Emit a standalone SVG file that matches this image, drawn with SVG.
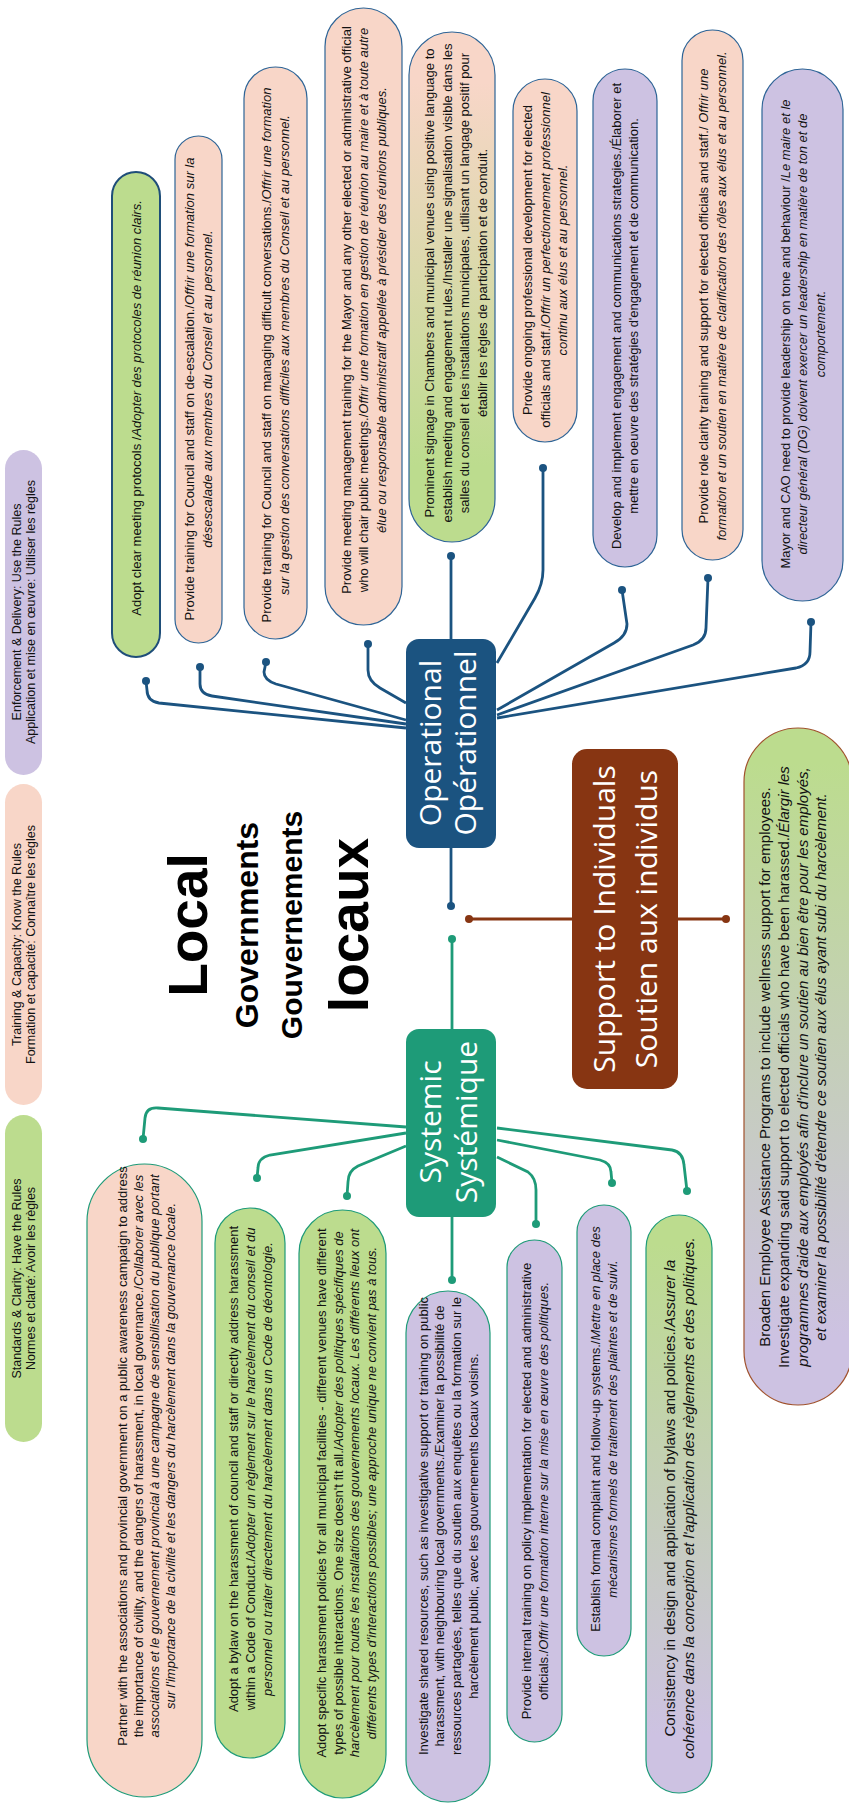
<svg xmlns="http://www.w3.org/2000/svg" width="849" height="1808" viewBox="0 0 849 1808">
<defs>
<linearGradient id="gPG" x1="0" y1="0" x2="0" y2="1"><stop offset="0.1" stop-color="#f8d6c8"/><stop offset="0.85" stop-color="#bcdc8e"/></linearGradient>
<linearGradient id="gGP" x1="0" y1="0" x2="0" y2="1"><stop offset="0.05" stop-color="#bcdc8e"/><stop offset="0.9" stop-color="#cdc2e2"/></linearGradient>
</defs>
<style>
.t{font-family:"Liberation Sans",Arial,sans-serif;font-size:13px;fill:#111;text-anchor:middle}
.b{font-size:15px}
.lg{font-size:12.5px}
.i{font-style:italic}
.hd{font-family:"Open Sans","Noto Sans",sans-serif;font-size:30px;fill:#fff;text-anchor:middle}
.ttl{font-family:"Liberation Sans",Arial,sans-serif;font-weight:bold;fill:#000;text-anchor:middle}
.pk{fill:#f8d6c8}
.gr{fill:#bcdc8e}
.pu{fill:#cdc2e2}
.ob{stroke:#2e6496;stroke-width:1.2}
.sb{stroke:#1e9b78;stroke-width:1.2}
.op{stroke:#1b5380;stroke-width:2.8;fill:none}
.sy{stroke:#1e9b78;stroke-width:2.8;fill:none}
.su{stroke:#873512;stroke-width:2.8;fill:none}
.dop{fill:#1b5380}
.dsy{fill:#1e9b78}
.dsu{fill:#873512}
</style>
<rect width="849" height="1808" fill="#fff"/>

<g id="legend-enforcement">
<rect x="5" y="450" width="37" height="325" rx="18.5" class="pu"/>
<text class="t lg" transform="translate(23.5,612) rotate(-90)"><tspan x="0" y="-2.6">Enforcement &amp; Delivery: Use the Rules</tspan><tspan x="0" y="11.4">Application et mise en œuvre: Utiliser les règles</tspan></text>
</g>
<g id="legend-training">
<rect x="5" y="784" width="37" height="321" rx="18.5" class="pk"/>
<text class="t lg" transform="translate(23.5,944.5) rotate(-90)"><tspan x="0" y="-2.6">Training &amp; Capacity: Know the Rules</tspan><tspan x="0" y="11.4">Formation et capacité: Connaître les règles</tspan></text>
</g>
<g id="legend-standards">
<rect x="5" y="1115" width="37" height="327" rx="18.5" class="gr"/>
<text class="t lg" transform="translate(23.5,1278.5) rotate(-90)"><tspan x="0" y="-2.6">Standards &amp; Clarity: Have the Rules</tspan><tspan x="0" y="11.4">Normes et clarté: Avoir les règles</tspan></text>
</g>

<g id="title">
<text class="ttl" font-size="55" transform="translate(207,925) rotate(-90)">Local</text>
<text class="ttl" font-size="32" transform="translate(258,925) rotate(-90)">Governments</text>
<text class="ttl" font-size="30" transform="translate(302,925) rotate(-90)">Gouvernements</text>
<text class="ttl" font-size="55" transform="translate(368,925) rotate(-90)">locaux</text>
</g>

<g id="connectors">
<path class="op" d="M406,728 L159,703 Q147,701 147,690 L146,681"/>
<path class="op" d="M406,724 L212,696 Q200,694 200,684 L200,667"/>
<path class="op" d="M406,720 L276,684 Q264,680 264,672 L266,662"/>
<path class="op" d="M406,703 L380,688 Q368,681 368,670 L368,644"/>
<path class="op" d="M451,639 L451,556"/>
<path class="op" d="M497,663 L535,598 Q543,584 543,570 L543,468"/>
<path class="op" d="M497,710 L614,643 Q627,636 627,624 L622,590"/>
<path class="op" d="M497,715 L693,645 Q706,640 706,628 L708,578"/>
<path class="op" d="M497,718 L796,668 Q810,665 810,652 L811,622"/>
<path class="op" d="M451,848 L451,906"/>
<circle class="dop" cx="146" cy="681" r="4"/>
<circle class="dop" cx="200" cy="667" r="4"/>
<circle class="dop" cx="266" cy="662" r="4"/>
<circle class="dop" cx="368" cy="644" r="4"/>
<circle class="dop" cx="451" cy="556" r="4"/>
<circle class="dop" cx="543" cy="468" r="4"/>
<circle class="dop" cx="622" cy="590" r="4"/>
<circle class="dop" cx="708" cy="578" r="4"/>
<circle class="dop" cx="811" cy="622" r="4"/>
<circle class="dop" cx="451" cy="906" r="4"/>

<path class="sy" d="M406,1127 L158,1108 Q146,1107 145,1118 L143,1139"/>
<path class="sy" d="M406,1133 L270,1155 Q258,1158 258,1168 L257,1178"/>
<path class="sy" d="M406,1146 L358,1166 Q348,1171 348,1182 L347,1196"/>
<path class="sy" d="M452,1217 L452,1280"/>
<path class="sy" d="M497,1157 L528,1172 Q536,1178 536,1190 L536,1224"/>
<path class="sy" d="M497,1140 L600,1160 Q611,1163 611,1172 L612,1183"/>
<path class="sy" d="M497,1128 L672,1150 Q683,1152 684,1165 L687,1191"/>
<path class="sy" d="M452,1029 L452,939"/>
<circle class="dsy" cx="143" cy="1139" r="4"/>
<circle class="dsy" cx="257" cy="1178" r="4"/>
<circle class="dsy" cx="347" cy="1196" r="4"/>
<circle class="dsy" cx="452" cy="1280" r="4"/>
<circle class="dsy" cx="536" cy="1224" r="4"/>
<circle class="dsy" cx="612" cy="1183" r="4"/>
<circle class="dsy" cx="687" cy="1191" r="4"/>
<circle class="dsy" cx="452" cy="939" r="4"/>

<path class="su" d="M469,919 L572,919 M678,919 L726,919"/>
<circle class="dsu" cx="469" cy="919" r="4"/>
<circle class="dsu" cx="726" cy="919" r="4"/>
</g>

<g id="operational">
<rect x="406" y="639" width="90" height="209" rx="13" fill="#1b5380"/>
<text class="hd" transform="translate(451,743) rotate(-90)"><tspan x="0" y="-10">Operational</tspan><tspan x="0" y="25">Opérationnel</tspan></text>
</g>
<g id="systemic">
<rect x="406" y="1029" width="90" height="188" rx="13" fill="#1e9b78"/>
<text class="hd" transform="translate(451,1122) rotate(-90)"><tspan x="0" y="-10">Systemic</tspan><tspan x="0" y="26">Systémique</tspan></text>
</g>
<g id="support">
<rect x="572" y="749" width="106" height="340" rx="15" fill="#873512"/>
<text class="hd" transform="translate(625,919) rotate(-90)"><tspan x="0" y="-10.5">Support to Individuals</tspan><tspan x="0" y="31.5">Soutien aux individus</tspan></text>
</g>

<g id="op-protocols">
<rect x="112" y="172" width="48" height="485" rx="24" class="gr" stroke="#1f4e79" stroke-width="2"/>
<text class="t" transform="translate(136,408) rotate(-90)"><tspan x="0" y="4.55">Adopt clear meeting protocols /<tspan class="i">Adopter des protocoles de réunion clairs.</tspan></tspan></text>
</g>
<g id="op-deescalation">
<rect x="175" y="136" width="47" height="507" rx="23.5" class="pk ob"/>
<text class="t" transform="translate(198.5,389) rotate(-90)"><tspan x="0" y="-4.2">Provide training for Council and staff on de-escalation./<tspan class="i">Offrir une formation sur la</tspan></tspan><tspan x="0" y="13.3" class="i">désescalade aux membres du Conseil et au personnel.</tspan></text>
</g>
<g id="op-conversations">
<rect x="244" y="67" width="63" height="572" rx="31.5" class="pk ob"/>
<text class="t" transform="translate(275.5,355) rotate(-90)"><tspan x="0" y="-4.2">Provide training for Council and staff on managing difficult conversations./<tspan class="i">Offrir une formation</tspan></tspan><tspan x="0" y="13.3" class="i">sur la gestion des conversations difficiles aux membres du Conseil et au personnel.</tspan></text>
</g>
<g id="op-meeting-management">
<rect x="325" y="8" width="77" height="617" rx="38.5" class="pk ob"/>
<text class="t" transform="translate(363.5,310) rotate(-90)"><tspan x="0" y="-12.95">Provide meeting management training for the Mayor and any other elected or administrative official</tspan><tspan x="0" y="4.55">who will chair public meetings./<tspan class="i">Offrir une formation en gestion de réunion au maire et à toute autre</tspan></tspan><tspan x="0" y="22.05" class="i">élue ou responsable administratif appellée à présider des réunions publiques.</tspan></text>
</g>
<g id="op-signage">
<rect x="409" y="32" width="86" height="510" rx="43" fill="url(#gPG)" class="ob"/>
<text class="t" transform="translate(456,283) rotate(-90)"><tspan x="0" y="-21.7">Prominent signage in Chambers and municipal venues using positive language to</tspan><tspan x="0" y="-4.2">establish meeting and engagement rules./Installer une signalisation visible dans les</tspan><tspan x="0" y="13.3">salles du conseil et les installations municipales, utilisant un langage positif pour</tspan><tspan x="0" y="30.8">établir les règles de participation et de conduit.</tspan></text>
</g>
<g id="op-development">
<rect x="513" y="79" width="64" height="363" rx="32" class="pk ob"/>
<text class="t" transform="translate(545,260) rotate(-90)"><tspan x="0" y="-12.95">Provide ongoing professional development for elected</tspan><tspan x="0" y="4.55">officials and staff./<tspan class="i">Offrir un perfectionnement professionnel</tspan></tspan><tspan x="0" y="22.05" class="i">continu aux élus et au personnel.</tspan></text>
</g>
<g id="op-engagement">
<rect x="593" y="69" width="64" height="498" rx="32" class="pu ob"/>
<text class="t" transform="translate(625,316) rotate(-90)"><tspan x="0" y="-4.2">Develop and implement engagement and communications strategies./Élaborer et</tspan><tspan x="0" y="13.3">mettre en oeuvre des stratégies d'engagement et de communication.</tspan></text>
</g>
<g id="op-role-clarity">
<rect x="682" y="30" width="61" height="530" rx="30.5" class="pk ob"/>
<text class="t" transform="translate(712.5,296) rotate(-90)"><tspan x="0" y="-4.2">Provide role clarity training and support for elected officials and staff./<tspan class="i"> Offrir une</tspan></tspan><tspan x="0" y="13.3" class="i">formation et un soutien en matière de clarification des rôles aux élus et au personnel.</tspan></text>
</g>
<g id="op-leadership">
<rect x="762" y="69" width="81" height="532" rx="40.5" class="pu ob"/>
<text class="t" transform="translate(802.5,334) rotate(-90)"><tspan x="0" y="-12.95">Mayor and CAO need to provide leadership on tone and behaviour /<tspan class="i">Le maire et le</tspan></tspan><tspan x="0" y="4.55" class="i">directeur général (DG) doivent exercer un leadership en matière de ton et de</tspan><tspan x="0" y="22.05" class="i">comportement.</tspan></text>
</g>

<g id="sy-partner">
<rect x="87" y="1164" width="115" height="633" rx="57.5" class="pk sb"/>
<text class="t" transform="translate(146,1456) rotate(-90)"><tspan x="0" y="-19.45">Partner with the associations and provincial government on a public awareness campaign to address</tspan><tspan x="0" y="-3.45">the importance of civility, and the dangers of harassment, in local governance./<tspan class="i">Collaborer avec les</tspan></tspan><tspan x="0" y="12.55" class="i">associations et le gouvernement provincial à une campagne de sensibilisation du publique portant</tspan><tspan x="0" y="28.55" class="i">sur l'importance de la civilité et les dangers du harcèlement dans la gouvernance locale.</tspan></text>
</g>
<g id="sy-bylaw">
<rect x="215" y="1208" width="70" height="550" rx="35" class="gr sb"/>
<text class="t" transform="translate(250,1469) rotate(-90)"><tspan x="0" y="-12.45">Adopt a bylaw on the harassment of council and staff or directly address harassment</tspan><tspan x="0" y="4.55">within a Code of Conduct./<tspan class="i">Adopter un règlement sur le harcèlement du conseil et du</tspan></tspan><tspan x="0" y="21.55" class="i">personnel ou traiter directement du harcèlement dans un Code de déontologie.</tspan></text>
</g>
<g id="sy-policies">
<rect x="299" y="1210" width="87" height="588" rx="43.5" class="gr sb"/>
<text class="t" transform="translate(346.5,1493) rotate(-90)"><tspan x="0" y="-20.5">Adopt specific harassment policies for all municipal facilities - different venues have different</tspan><tspan x="0" y="-3.8">types of possible interactions. One size doesn't fit all./<tspan class="i">Adopter des politiques spécifiques de</tspan></tspan><tspan x="0" y="12.9" class="i">harcèlement pour toutes les installations des gouvernements locaux. Les différents lieux ont</tspan><tspan x="0" y="29.6" class="i">différents types d'interactions possibles; une approche unique ne convient pas à tous.</tspan></text>
</g>
<g id="sy-shared">
<rect x="406" y="1291" width="84" height="511" rx="42" class="pu sb"/>
<text class="t" transform="translate(448,1526) rotate(-90)"><tspan x="0" y="-20.5">Investigate shared resources, such as investigative support or training on public</tspan><tspan x="0" y="-3.8">harassment, with neighbouring local governments./Examiner la possibilité de</tspan><tspan x="0" y="12.9">ressources partagées, telles que du soutien aux enquêtes ou la formation sur le</tspan><tspan x="0" y="29.6">harcèlement public, avec les gouvernements locaux voisins.</tspan></text>
</g>
<g id="sy-internal">
<rect x="507" y="1240" width="55" height="502" rx="27.5" class="pu sb"/>
<text class="t" transform="translate(534.5,1491) rotate(-90)"><tspan x="0" y="-3.95">Provide internal training on policy implementation for elected and administrative</tspan><tspan x="0" y="13.05">officials./<tspan class="i">Offrir une formation interne sur la mise en œuvre des politiques.</tspan></tspan></text>
</g>
<g id="sy-complaint">
<rect x="577" y="1205" width="54" height="451" rx="27" class="pu sb"/>
<text class="t" transform="translate(604,1429) rotate(-90)"><tspan x="0" y="-3.95">Establish formal complaint and follow-up systems./<tspan class="i">Mettre en place des</tspan></tspan><tspan x="0" y="13.05" class="i">mécanismes formels de traitement des plaintes et de suivi.</tspan></text>
</g>
<g id="sy-consistency">
<rect x="646" y="1215" width="66" height="578" rx="33" fill="url(#gGP)" class="sb"/>
<text class="t b" transform="translate(679,1498) rotate(-90)"><tspan x="0" y="-4.25">Consistency in design and application of bylaws and policies./<tspan class="i">Assurer la</tspan></tspan><tspan x="0" y="14.75" class="i">cohérence dans la conception et l'application des règlements et des politiques.</tspan></text>
</g>

<g id="su-eap">
<rect x="744" y="728" width="108" height="677" rx="54" fill="url(#gGP)" stroke="#a0522d" stroke-width="1.2"/>
<text class="t b" transform="translate(793,1067) rotate(-90)"><tspan x="0" y="-22.8">Broaden Employee Assistance Programs to include wellness support for employees.</tspan><tspan x="0" y="-4.1">Investigate expanding said support to elected officials who have been harassed./<tspan class="i">Élargir les</tspan></tspan><tspan x="0" y="14.6" class="i">programmes d'aide aux employés afin d'inclure un soutien au bien être pour les employés,</tspan><tspan x="0" y="33.3" class="i">et examiner la possibilité d'étendre ce soutien aux élus ayant subi du harcèlement.</tspan></text>
</g>
</svg>
